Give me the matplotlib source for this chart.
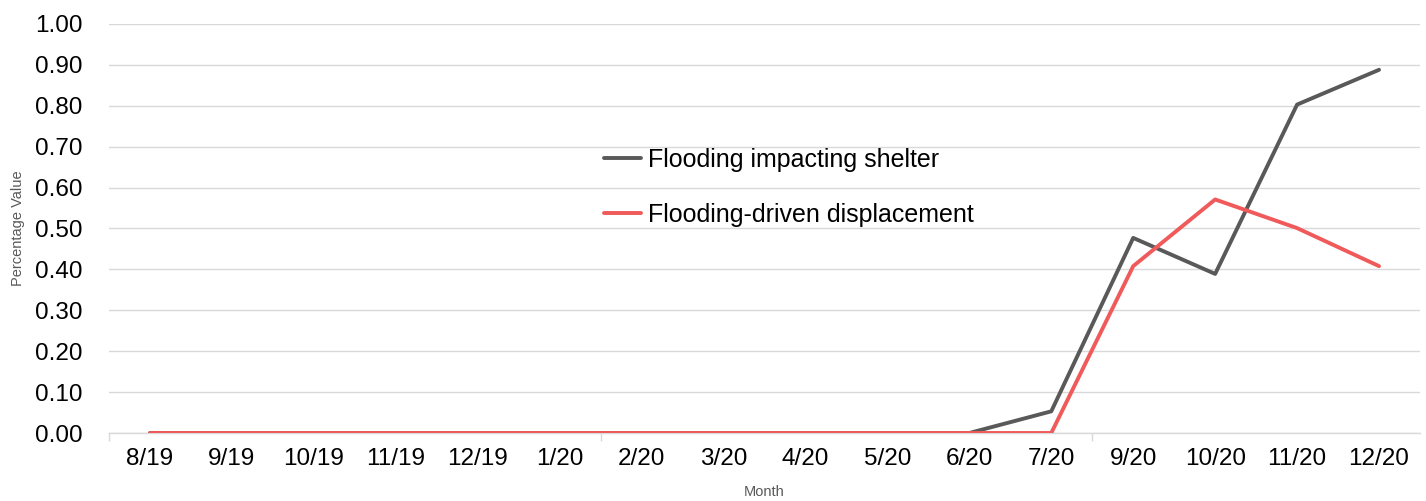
import matplotlib.pyplot as plt
from matplotlib.ticker import FixedLocator

months = ['8/19', '9/19', '10/19', '11/19', '12/19', '1/20', '2/20', '3/20',
          '4/20', '5/20', '6/20', '7/20', '9/20', '10/20', '11/20', '12/20']
shelter = [0, 0, 0, 0, 0, 0, 0, 0, 0, 0, 0, 0.053, 0.477, 0.389, 0.803, 0.888]
displacement = [0, 0, 0, 0, 0, 0, 0, 0, 0, 0, 0, 0, 0.408, 0.571, 0.501, 0.408]
yticks = [0.0, 0.1, 0.2, 0.3, 0.4, 0.5, 0.6, 0.7, 0.8, 0.9, 1.0]

plt.rcParams['font.family'] = ['Liberation Sans', 'DejaVu Sans']

W, H = 1426, 501
fig = plt.figure(figsize=(W / 100, H / 100), dpi=100)
ax = fig.add_axes([109 / W, 1 - 433 / H, (1420 - 109) / W, (433 - 24) / H])

x = list(range(len(months)))
ax.plot(x, shelter, color='#595959', lw=2.8, solid_capstyle='round',
        label='Flooding impacting shelter', zorder=3)
ax.plot(x, displacement, color='#F05A5A', lw=2.8, solid_capstyle='round',
        label='Flooding-driven displacement', zorder=3)

ax.set_xlim(-0.5, len(months) - 0.5)
ax.set_ylim(0, 1.0)
ax.set_yticks(yticks)
ax.set_yticklabels([f'{v:.2f}' for v in yticks])
ax.set_xticks(x)
ax.set_xticklabels(months)
ax.xaxis.set_minor_locator(FixedLocator([-0.5, 5.5, 11.5]))

ax.grid(axis='y', color='#D9D9D9', lw=1)
ax.set_axisbelow(True)
for s in ['top', 'right', 'left']:
    ax.spines[s].set_visible(False)
ax.spines['bottom'].set_color('#D9D9D9')
ax.spines['bottom'].set_linewidth(1)

ax.tick_params(axis='y', length=0, pad=19, labelsize=17.5)
ax.tick_params(axis='x', which='major', length=0, pad=11, labelsize=17.5)
ax.tick_params(axis='x', which='minor', length=6, color='#D9D9D9', width=1)

ax.legend(loc='upper left', bbox_to_anchor=(591 / W, 1 - 135 / H),
          bbox_transform=fig.transFigure, frameon=False, fontsize=18,
          borderpad=0, handlelength=1.5, handletextpad=0.3, labelspacing=1.25)

fig.text(764 / W, 1 - 492 / H, 'Month', ha='center', va='center',
         fontsize=10.5, color='#595959',
         family=['Liberation Sans Narrow', 'Liberation Sans', 'DejaVu Sans'])
fig.text(18 / W, 1 - 228 / H, 'Percentage Value', ha='center', va='center',
         rotation=90, fontsize=10.5, color='#595959',
         family=['Liberation Sans Narrow', 'Liberation Sans', 'DejaVu Sans'])

fig.savefig('out.png', dpi=100)
